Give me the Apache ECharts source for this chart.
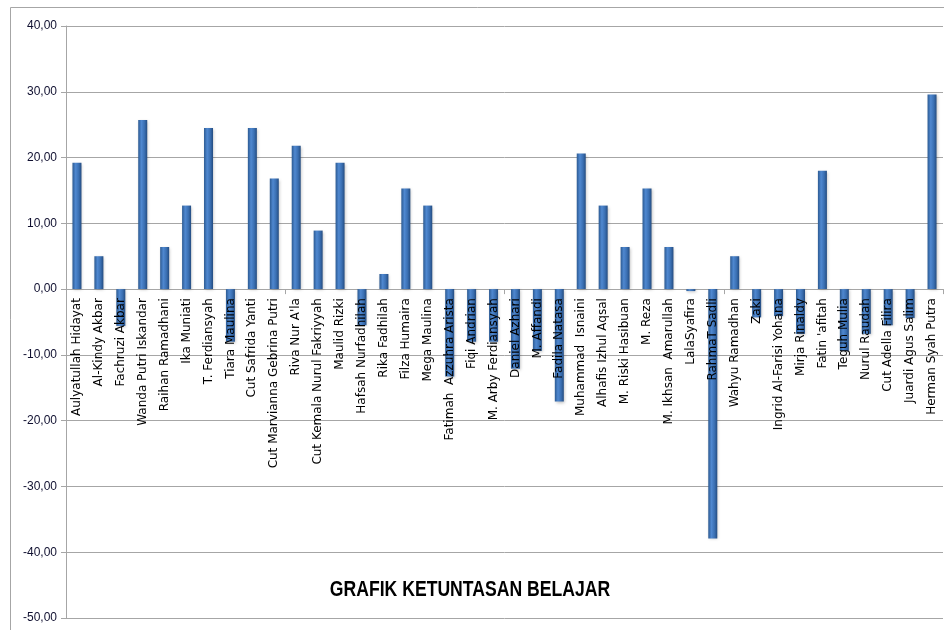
<!DOCTYPE html>
<html>
<head>
<meta charset="utf-8">
<script src="https://cdn.jsdelivr.net/npm/echarts@6/dist/echarts.min.js"></script>
<style>
  html, body { margin: 0; padding: 0; background: #fff; }
  #chart { width: 944px; height: 630px; }
</style>
</head>
<body>
<div id="chart"></div>
<script>
// nama siswa
var names = [
  'Aulyatullah Hidayat', 'Al-Kindy Akbar', 'Fachruzi Akbar', 'Wanda Putri Iskandar',
  'Raihan Ramadhani', 'Ika Muniati', 'T. Ferdiansyah', 'Tiara Maulina',
  'Cut Safrida Yanti', 'Cut Marvianna Gebrina Putri', "Riva Nur A'la",
  'Cut Kemala Nurul Fakriyyah', 'Maulid Rizki', 'Hafsah Nurfadhilah', 'Rika Fadhilah',
  'Filza Humaira', 'Mega Maulina', 'Fatimah  Azzuhra Arista', 'Fiqi Andrian',
  'M. Arby Ferdiansyah', 'Daniel Azhari', 'M. Affandi', 'Fadila Natasa',
  'Muhammad  Isnaini', 'Alhafis Izhul Aqsal', 'M. Riski Hasibuan', 'M. Reza',
  'M. Ikhsan  Amarullah', 'LalaSyafira', 'RahmaT Sadli', 'Wahyu Ramadhan', 'Zaki',
  'Ingrid Al-Farisi Yohana', 'Mirja Rinaldy', "Fatin 'afitah", 'Teguh Mulia',
  'Nurul Raudah', 'Cut Adella Filira', 'Juardi Agus Salim', 'Herman Syah Putra'
];

// nilai ketuntasan
var nilai = [
  19.2, 5.0, -5.6, 25.7, 6.4, 12.7, 24.5, -8.0, 24.5, 16.8,
  21.8, 8.9, 19.2, -5.5, 2.3, 15.3, 12.7, -13.3, -8.0, -8.0,
  -12.1, -9.4, -17.1, 20.6, 12.7, 6.4, 15.3, 6.4, -0.3, -37.9,
  5.0, -4.3, -4.1, -6.8, 18.0, -9.4, -6.8, -5.5, -4.4, 29.6
];

var yTicks = [-50, -40, -30, -20, -10, 0, 10, 20, 30, 40];

var gridTop = 26, gridBottom = 12, H = 630;
var yMin = yTicks[0], yMax = yTicks[yTicks.length - 1];
// jarak garis nol dari tepi bawah grid
var zeroOffset = (H - gridTop - gridBottom) * (0 - yMin) / (yMax - yMin);

var chart = echarts.init(document.getElementById('chart'), null, { renderer: 'canvas' });

var barColor = new echarts.graphic.LinearGradient(0, 0, 1, 0, [
  { offset: 0, color: '#2c5a92' },
  { offset: 0.35, color: '#4f88d0' },
  { offset: 0.7, color: '#3a6fb2' },
  { offset: 1, color: '#244c80' }
]);

chart.setOption({
  animation: false,
  graphic: [{
    type: 'rect',
    shape: { x: 10.5, y: 7.5, width: 960, height: 640 },
    style: { fill: 'none', stroke: '#a6a6a6', lineWidth: 1 },
    silent: true
  }, {
    type: 'text',
    x: 470,
    y: 590,
    scaleX: 0.8,
    style: {
      text: 'GRAFIK KETUNTASAN BELAJAR',
      fill: '#000',
      align: 'center',
      verticalAlign: 'middle',
      font: 'bold 22px "Liberation Sans", sans-serif'
    },
    z: 10
  }],
  grid: { left: 66, right: 1, top: gridTop, bottom: gridBottom, containLabel: false, outerBoundsMode: 'none' },
  xAxis: [{
    type: 'category',
    data: names,
    boundaryGap: true,
    axisLine: { onZero: true, lineStyle: { color: '#a6a6a6', width: 1 } },
    axisTick: { show: true, length: 5, lineStyle: { color: '#a6a6a6' } },
    axisLabel: { show: false },
    splitLine: { show: false },
    z: 1
  }, {
    type: 'category',
    data: names,
    position: 'bottom',
    offset: -zeroOffset,
    boundaryGap: true,
    axisLine: { show: false, onZero: false },
    axisTick: { show: false },
    axisLabel: {
      interval: 0,
      rotate: 90,
      margin: 9,
      color: '#000',
      fontSize: 12,
      fontFamily: 'DejaVu Sans'
    },
    splitLine: { show: false },
    z: 20
  }],
  yAxis: {
    type: 'value',
    min: yMin,
    max: yMax,
    interval: 10,
    axisLine: { show: true, lineStyle: { color: '#a6a6a6' } },
    axisTick: { show: true, length: 5, lineStyle: { color: '#a6a6a6' } },
    splitLine: { lineStyle: { color: '#a6a6a6', width: 1 } },
    axisLabel: {
      margin: 9,
      color: '#101030',
      fontSize: 12,
      fontFamily: '"Liberation Sans", sans-serif',
      formatter: function (v) { return v.toFixed(2).replace('.', ','); }
    }
  },
  series: [{
    type: 'bar',
    data: nilai,
    barWidth: 9,
    z: 3,
    itemStyle: {
      color: barColor,
      shadowColor: 'rgba(0,0,0,0.25)',
      shadowBlur: 3,
      shadowOffsetX: 1,
      shadowOffsetY: 1
    }
  }]
});
</script>
</body>
</html>
